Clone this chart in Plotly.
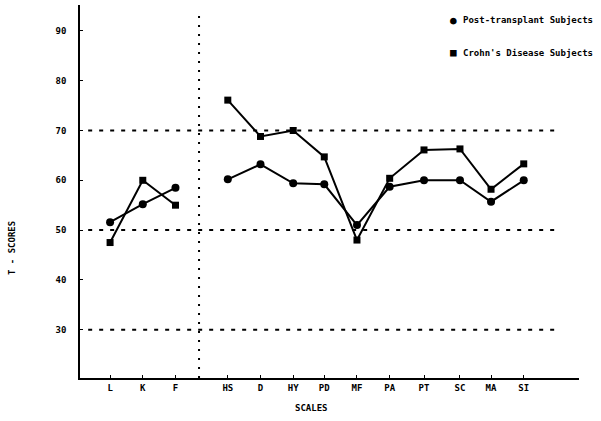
import plotly.graph_objects as go

figure_width = 601
figure_height = 421

scales = ['L', 'K', 'F', 'HS', 'D', 'HY', 'PD', 'MF', 'PA', 'PT', 'SC', 'MA', 'SI']
# horizontal slot of each scale (validity scales, then a gap, then clinical scales)
scale_pos = [1, 2, 3, 4.6, 5.6, 6.6, 7.55, 8.55, 9.55, 10.6, 11.7, 12.65, 13.65]
n_validity = 3

post_transplant = [51.6, 55.2, 58.5, 60.2, 63.2, 59.4, 59.2, 51.0, 58.7, 60.0, 60.0, 55.7, 60.0]
crohns = [47.5, 60.0, 55.0, 76.1, 68.8, 70.0, 64.7, 48.0, 60.4, 66.1, 66.3, 58.2, 63.3]

y_ticks = [30, 40, 50, 60, 70, 80, 90]
ref_lines = [30, 50, 70]
divider_pos = 3.72

font_mono = 'DejaVu Sans Mono'


def split_groups(values):
    # validity block and clinical block are drawn as separate polylines
    return ((scale_pos[:n_validity], values[:n_validity]),
            (scale_pos[n_validity:], values[n_validity:]))


def add_series(fig, values, symbol, size):
    for xs, ys in split_groups(values):
        fig.add_trace(go.Scatter(
            x=xs, y=ys, mode='lines+markers',
            line=dict(color='black', width=2),
            marker=dict(symbol=symbol, size=size, color='black'),
            showlegend=False, hoverinfo='skip',
        ))


def main():
    fig = go.Figure()
    add_series(fig, post_transplant, 'circle', 8)
    add_series(fig, crohns, 'square', 7)

    # dotted reference lines
    for v in ref_lines:
        fig.add_shape(type='line', xref='x', yref='y', x0=0.33, x1=14.76, y0=v, y1=v,
                      line=dict(color='black', width=2, dash='4px,7px'))
    fig.add_shape(type='line', xref='x', yref='y', x0=divider_pos, x1=divider_pos,
                  y0=20.3, y1=93.3,
                  line=dict(color='black', width=2, dash='2px,7px'))

    # legend, drawn as text so it sits tight against the right edge
    legend_items = [('●', 'Post-transplant Subjects', 20),
                    ('■', "Crohn's Disease Subjects", 53)]
    for glyph, label, ypx in legend_items:
        fig.add_annotation(xref='paper', yref='paper', x=(453 - 80) / 499,
                           y=1 - (ypx - 5) / 373, text=glyph, showarrow=False,
                           xanchor='center', yanchor='middle',
                           font=dict(family=font_mono, size=11, color='black'))
        fig.add_annotation(xref='paper', yref='paper', x=(461 - 80) / 499,
                           y=1 - (ypx - 5) / 373, text=f'<b>{label}</b>',
                           showarrow=False, xanchor='left', yanchor='middle',
                           font=dict(family=font_mono, size=9, color='black'))

    fig.add_annotation(xref='paper', yref='paper', x=(311 - 80) / 499,
                       y=1 - (408 - 5) / 373, text='<b>SCALES</b>', showarrow=False,
                       xanchor='center', yanchor='middle',
                       font=dict(family=font_mono, size=9, color='black'))
    fig.add_annotation(xref='paper', yref='paper', x=(12 - 80) / 499,
                       y=1 - (248 - 5) / 373, text='<b>T - SCORES</b>', showarrow=False,
                       textangle=-90, xanchor='center', yanchor='middle',
                       font=dict(family=font_mono, size=9, color='black'))

    fig.update_layout(
        width=figure_width, height=figure_height,
        margin=dict(l=80, r=22, t=5, b=43),
        paper_bgcolor='white', plot_bgcolor='white',
        font=dict(family=font_mono, size=9, color='black'),
        showlegend=False,
    )
    fig.update_xaxes(
        range=[0.08, 15.34], tickvals=scale_pos,
        ticktext=[f'<b>{s}</b>' for s in scales],
        showgrid=False, zeroline=False, showline=True, linecolor='black', linewidth=2,
        ticks='inside', ticklen=3, tickcolor='black',
    )
    fig.update_yaxes(
        range=[20.3, 95.2], tickvals=y_ticks,
        ticktext=[f'<b>{v}</b>' for v in y_ticks],
        showgrid=False, zeroline=False, showline=True, linecolor='black', linewidth=1.5,
        ticks='inside', ticklen=3, tickcolor='black', ticklabelstandoff=10,
    )

    # page body has a default 8px margin; drop it so the figure fills the window
    fix_page = ("document.body.style.margin='0';"
                "Plotly.relayout(document.getElementById('{plot_id}'),"
                f"{{width:{figure_width},height:{figure_height}}});")
    fig.write_html('out.html', post_script=fix_page,
                   config={'displayModeBar': False})


if __name__ == '__main__':
    main()
